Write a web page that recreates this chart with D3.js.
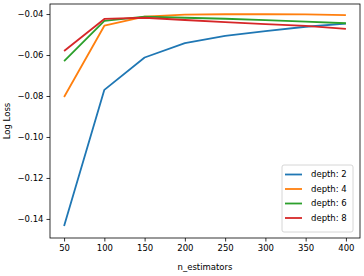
<!DOCTYPE html>
<html><head><meta charset="utf-8">
<script src="https://cdn.jsdelivr.net/npm/d3@7"></script>
<style>body{margin:0;background:#fff}svg{display:block;font-family:"DejaVu Sans",sans-serif}</style>
</head><body><svg id="c" width="364" height="276"></svg>
<script>
const nEstimators = [50,100,150,200,250,300,350,400];
const depth2 = [-0.1435,-0.0770,-0.0612,-0.0542,-0.0507,-0.0483,-0.0462,-0.0447];
const depth4 = [-0.0805,-0.0457,-0.0413,-0.0403,-0.0401,-0.0401,-0.0402,-0.0405];
const depth6 = [-0.0630,-0.0433,-0.0413,-0.0418,-0.0423,-0.0430,-0.0437,-0.0445];
const depth8 = [-0.0580,-0.0424,-0.0418,-0.0429,-0.0439,-0.0449,-0.0458,-0.0472];
const seriesNames = ["depth: 2","depth: 4","depth: 6","depth: 8"];
const colors = ["#1f77b4","#ff7f0e","#2ca02c","#d62728"];
const xTicks = [50,100,150,200,250,300,350,400];
const yTicks = [-0.14,-0.12,-0.10,-0.08,-0.06,-0.04];

const series=[depth2,depth4,depth6,depth8];
const svg=d3.select("#c");
const L=50,R=360,T=4,B=238;
const x=d3.scaleLinear().domain([32.5,417.5]).range([L,R]);
const y=d3.scaleLinear().domain([-0.1493,-0.0351]).range([B,T]);
const fmt=d=>d3.format(".2f")(d).replace("-","\u2212");

const gx=svg.append("g").attr("transform",`translate(0,${B})`).call(d3.axisBottom(x).tickValues(xTicks).tickSize(3.5).tickPadding(3));
const gy=svg.append("g").attr("transform",`translate(${L},0)`).call(d3.axisLeft(y).tickValues(yTicks).tickFormat(fmt).tickSize(3.5).tickPadding(3));
[gx,gy].forEach(g=>{g.select(".domain").remove();g.selectAll("text").attr("font-size",8.5).attr("fill","#000").attr("font-family","DejaVu Sans");g.selectAll("line").attr("stroke","#000").attr("stroke-width",0.8);});

const line=d3.line().x((d,i)=>x(nEstimators[i])).y(d=>y(d));
series.forEach((s,k)=>{
 svg.append("path").datum(s).attr("d",line).attr("fill","none").attr("stroke",colors[k]).attr("stroke-width",1.8).attr("stroke-linejoin","round");
});
svg.append("rect").attr("x",L).attr("y",T).attr("width",R-L).attr("height",B-T).attr("fill","none").attr("stroke","#000").attr("stroke-width",0.8);

// legend
const lg=svg.append("g");
lg.append("rect").attr("x",282).attr("y",165).attr("width",71).attr("height",67).attr("rx",2).attr("fill","#fff").attr("fill-opacity",0.8).attr("stroke","#ccc").attr("stroke-width",0.8);
seriesNames.forEach((n,k)=>{
 const yy=174.5+k*14.5;
 lg.append("line").attr("x1",285).attr("x2",302).attr("y1",yy).attr("y2",yy).attr("stroke",colors[k]).attr("stroke-width",1.8);
 lg.append("text").attr("x",311).attr("y",yy).attr("dy","0.35em").attr("font-size",8.5).text(n);
});

svg.append("text").attr("x",(L+R)/2).attr("y",270).attr("text-anchor","middle").attr("font-size",8.5).text("n_estimators");
svg.append("text").attr("transform",`translate(10,${(T+B)/2}) rotate(-90)`).attr("text-anchor","middle").attr("font-size",8.5).text("Log Loss");
</script></body></html>
